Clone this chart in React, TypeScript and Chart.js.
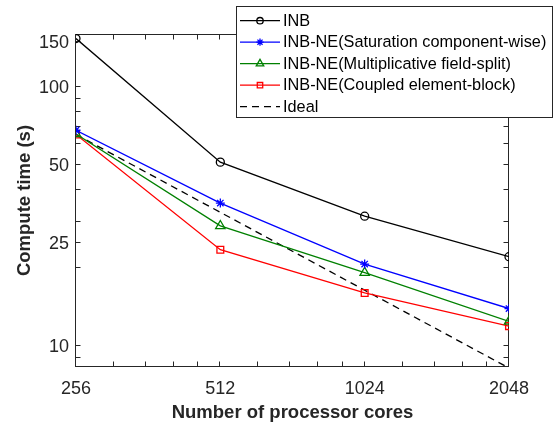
import React, { useEffect, useRef } from 'react';
import { Chart, registerables } from 'chart.js';

Chart.register(...registerables);

// ---- data ----
const cores = [256, 512, 1024, 2048];
const inb = [152.7, 50.8, 31.4, 21.9];
const satComp = [67.5, 35.3, 20.5, 13.8];
const multSplit = [65.3, 28.8, 19.0, 12.3];
const coupled = [65.0, 23.3, 15.85, 11.8];
const ideal = [65.0, 32.5, 16.25, 8.125];
const seriesLabels = [
  'INB',
  'INB-NE(Saturation component-wise)',
  'INB-NE(Multiplicative field-split)',
  'INB-NE(Coupled element-block)',
  'Ideal',
];
const xTicks = [256, 512, 1024, 2048];
const yTicks = [10, 25, 50, 100, 150];
const xMinorTicks = [307.2, 358.4, 409.6, 460.8, 614.4, 716.8, 819.2, 921.6, 1228.8, 1433.6, 1638.4, 1843.2];
const yMinorTicks = [9, 20, 30, 40, 60, 70, 80, 90];
const xTitle = 'Number of processor cores';
const yTitle = 'Compute time (s)';

const FONT = '"Liberation Sans", Arial, Helvetica, sans-serif';
const AXIS = '#262626';

function drawMarker(ctx: CanvasRenderingContext2D, style: string, x: number, y: number, r: number) {
  ctx.beginPath();
  if (style === 'circle') {
    ctx.arc(x, y, r, 0, Math.PI * 2);
  } else if (style === 'star') {
    for (let k = 0; k < 4; k++) {
      const a = (k * Math.PI) / 4;
      ctx.moveTo(x - r * Math.cos(a), y - r * Math.sin(a));
      ctx.lineTo(x + r * Math.cos(a), y + r * Math.sin(a));
    }
  } else if (style === 'triangle') {
    ctx.moveTo(x, y - r);
    ctx.lineTo(x + (r * Math.sqrt(3)) / 2, y + r / 2);
    ctx.lineTo(x - (r * Math.sqrt(3)) / 2, y + r / 2);
    ctx.closePath();
  } else if (style === 'rect') {
    const s = r * Math.SQRT1_2;
    ctx.rect(x - s, y - s, 2 * s, 2 * s);
  }
  ctx.stroke();
}

const axesBoxPlugin = {
  id: 'axesBox',
  beforeDatasetsDraw(chart: any) {
    const { ctx, chartArea: a, scales } = chart;
    const xs = scales.x;
    const ys = scales.y;
    ctx.save();
    ctx.strokeStyle = AXIS;
    ctx.lineWidth = 1;
    const L = Math.round(a.left) - 0.5;
    const R = Math.round(a.right) - 0.5;
    const T = Math.round(a.top) + 0.5;
    const B = Math.round(a.bottom) - 0.5;
    ctx.strokeRect(L, T, R - L, B - T);
    const tl = 5;
    ctx.beginPath();
    const xv = [...xs.ticks.map((t: any) => t.value), ...xMinorTicks];
    xv.forEach((v: number) => {
      const px = Math.round(xs.getPixelForValue(v)) - 0.5;
      ctx.moveTo(px, B);
      ctx.lineTo(px, B - tl);
      ctx.moveTo(px, T);
      ctx.lineTo(px, T + tl);
    });
    const yv = [...ys.ticks.map((t: any) => t.value), ...yMinorTicks];
    yv.forEach((v: number) => {
      const py = Math.round(ys.getPixelForValue(v)) + 0.5;
      if (py < T || py > B) return;
      ctx.moveTo(L, py);
      ctx.lineTo(L + tl, py);
      ctx.moveTo(R, py);
      ctx.lineTo(R - tl, py);
    });
    ctx.stroke();
    ctx.restore();
  },
};

const legendPlugin = {
  id: 'matlabLegend',
  afterDraw(chart: any) {
    const ctx: CanvasRenderingContext2D = chart.ctx;
    ctx.save();
    const x0 = 236.5, y0 = 6.5, x1 = 552.5, y1 = 117.5;
    ctx.fillStyle = '#ffffff';
    ctx.fillRect(x0, y0, x1 - x0, y1 - y0);
    ctx.strokeStyle = AXIS;
    ctx.lineWidth = 1;
    ctx.strokeRect(x0, y0, x1 - x0, y1 - y0);
    chart.data.datasets.forEach((ds: any, i: number) => {
      const cy = 20.7 + i * 21.5;
      ctx.strokeStyle = ds.borderColor;
      ctx.lineWidth = ds.borderWidth;
      ctx.setLineDash(ds.borderDash || []);
      ctx.beginPath();
      ctx.moveTo(240, cy);
      ctx.lineTo(280, cy);
      ctx.stroke();
      ctx.setLineDash([]);
      if (ds.pointStyle && ds.pointRadius > 0) {
        drawMarker(ctx, ds.pointStyle, 260, cy, ds.pointRadius * 0.8);
      }
      ctx.fillStyle = '#000000';
      ctx.font = `16.3px ${FONT}`;
      ctx.textBaseline = 'middle';
      ctx.textAlign = 'left';
      ctx.fillText(ds.label, 283, cy + 0.5);
    });
    ctx.restore();
  },
};

function mk(label: string, data: number[], color: string, style: string | false, radius: number, dash?: number[]) {
  return {
    label,
    data: cores.map((c, i) => ({ x: c, y: data[i] })),
    borderColor: color,
    backgroundColor: 'transparent',
    borderWidth: 1.3,
    borderDash: dash,
    pointStyle: style,
    pointRadius: radius,
    pointBorderWidth: 1.3,
    pointBorderColor: color,
    pointBackgroundColor: 'transparent',
    tension: 0,
    fill: false,
  };
}

export default function App() {
  const ref = useRef<HTMLCanvasElement | null>(null);
  useEffect(() => {
    if (!ref.current) return;
    const chart = new Chart(ref.current, {
      type: 'line',
      data: {
        datasets: [
          mk(seriesLabels[0], inb, '#000000', 'circle', 4),
          mk(seriesLabels[1], satComp, '#0000ff', 'star', 4.5),
          mk(seriesLabels[2], multSplit, '#008000', 'triangle', 5.4),
          mk(seriesLabels[3], coupled, '#ff0000', 'rect', 4.8),
          mk(seriesLabels[4], ideal, '#000000', false, 0, [7, 5]),
        ] as any,
      },
      options: {
        responsive: false,
        animation: false,
        devicePixelRatio: 1,
        events: [],
        layout: { padding: { left: 0, right: 44, top: 34, bottom: 0 } },
        plugins: { legend: { display: false }, tooltip: { enabled: false }, title: { display: false } },
        scales: {
          x: {
            type: 'logarithmic',
            min: 256,
            max: 2048,
            afterBuildTicks: (s: any) => {
              s.ticks = xTicks.map((v) => ({ value: v }));
            },
            afterFit: (s: any) => {
              s.height = 56;
            },
            grid: { display: false, drawTicks: false, tickLength: 0 },
            border: { display: false },
            ticks: {
              autoSkip: false,
              maxRotation: 0,
              minRotation: 0,
              padding: 11,
              color: AXIS,
              font: { family: FONT, size: 18 },
              callback: (v: any) => String(v),
            },
            title: {
              display: true,
              text: xTitle,
              color: AXIS,
              font: { family: FONT, size: 18.5, weight: 'bold', lineHeight: 1 },
              padding: { top: 0, bottom: 0.5 },
            },
          },
          y: {
            type: 'logarithmic',
            min: 8.2,
            max: 159,
            afterBuildTicks: (s: any) => {
              s.ticks = yTicks.map((v) => ({ value: v }));
            },
            afterFit: (s: any) => {
              s.width = 76;
            },
            grid: { display: false, drawTicks: false, tickLength: 0 },
            border: { display: false },
            ticks: {
              autoSkip: false,
              padding: 7,
              labelOffset: 2,
              color: AXIS,
              font: { family: FONT, size: 18 },
              callback: (v: any) => String(v),
            },
            title: {
              display: true,
              text: yTitle,
              color: AXIS,
              font: { family: FONT, size: 18.5, weight: 'bold', lineHeight: 1 },
              padding: { top: 16, bottom: 0 },
            },
          },
        },
      } as any,
      plugins: [axesBoxPlugin, legendPlugin],
    });
    return () => chart.destroy();
  }, []);
  return (
    <div style={{ position: 'fixed', left: 0, top: 0, width: 553, height: 423, background: '#fff' }}>
      <canvas ref={ref} width={553} height={423} style={{ width: 553, height: 423, display: 'block' }} />
    </div>
  );
}
